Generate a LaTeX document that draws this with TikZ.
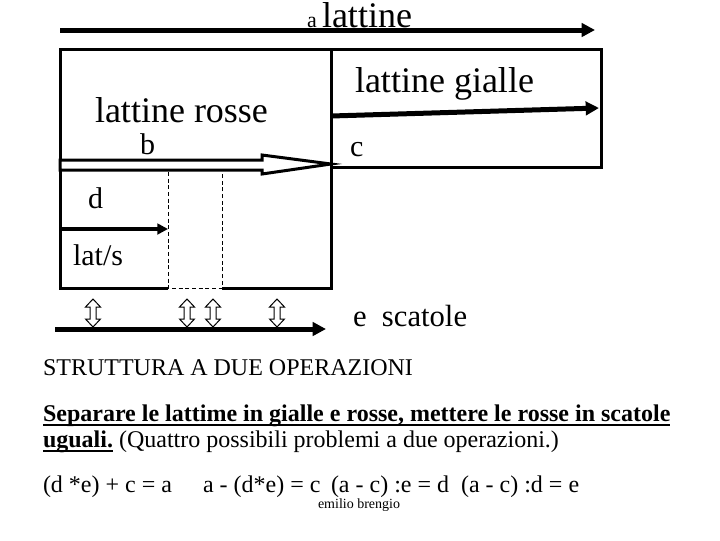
\documentclass[tikz,border=0pt]{standalone}
\usepackage{fontspec}
\IfFontExistsTF{LiberationSerif-Regular.ttf}
  {\setmainfont{LiberationSerif}[Extension=.ttf,UprightFont=*-Regular,BoldFont=*-Bold,ItalicFont=*-Italic,BoldItalicFont=*-BoldItalic]}
  {\setmainfont{Liberation Serif}}
\usetikzlibrary{arrows.meta}
\tikzset{
  lbl/.style={anchor=base west, inner sep=0pt, outer sep=0pt},
  big/.style={lbl, font=\rmfamily\fontsize{27}{32}\selectfont},
  mid/.style={lbl, font=\rmfamily\fontsize{22.5}{27}\selectfont},
  txt/.style={lbl, font=\rmfamily\fontsize{18}{22}\selectfont},
  boxline/.style={line width=2.25pt},
  fatarrow/.style={line width=3.75pt, -{Triangle[length=10pt,width=10pt]}},
  thinarrow/.style={line width=3pt, -{Triangle[length=8pt,width=8pt]}},
  dashline/.style={line width=0.75pt, dash pattern=on 3pt off 2pt},
  updown/.pic={\draw[line width=0.75pt, fill=white]
      (0,-14)--(7.5,-6)--(3,-6)--(3,6)--(7.5,6)--(0,14)--(-7.5,6)--(-3,6)--(-3,-6)--(-7.5,-6)--cycle;},
  uline/.style={line width=1.6pt}
}
\begin{document}
\begin{tikzpicture}[x=0.75pt,y=-0.75pt]
\fill[white] (0,0) rectangle (720,540);
\useasboundingbox (0,0) rectangle (720,540);

% top arrow "a lattine"
\coordinate (ta0) at (60,30);
\coordinate (ta1) at (595,30);
\draw[fatarrow] (ta0) -- (ta1);
\node[lbl, font=\rmfamily\fontsize{16.5}{20}\selectfont] (la) at (307,27) {a};
\node[big] (lat) at (322,27) {lattine};

% frame
\draw[boxline] (168,288) -| (60,49) -| (601,167) -- (331,167);
\draw[boxline] (331,49) -- (331,288) -- (222,288);
\draw[dashline] (168,172) -- (168,288) -- (222,288) -- (222,172);

% gialle arrow
\coordinate (g0) at (331,116);
\coordinate (g1) at (599,108);
\draw[fatarrow] (g0) -- (g1);

\node[big] (gialle) at (355,92) {lattine gialle};
\node[big] (rosse) at (95,122) {lattine rosse};
\node[mid] (b) at (140,154) {b};
\node[mid] (c) at (350,156) {c};

% hollow arrow b
\draw[line width=2.25pt, fill=white]
  (60,160) -- (262,160) -- (262,155) -- (331,164) -- (262,174) -- (262,170) -- (60,170) -- cycle;

% d arrow
\node[mid] (d) at (88,208) {d};
\coordinate (d0) at (60,229);
\coordinate (d1) at (168,229);
\draw[thinarrow] (d0) -- (d1);
\node[mid] (lats) at (73,265) {lat/s};

% bottom arrow and double arrows
\coordinate (e0) at (55,329);
\coordinate (e1) at (326,329);
\draw[fatarrow] (e0) -- (e1);
\pic at (93,313) {updown};
\pic at (187,313) {updown};
\pic at (213,313) {updown};
\pic at (277,313) {updown};
\node[lbl, font=\rmfamily\fontsize{23}{27}\selectfont] (esc) at (353,326) {e~ scatole};

% texts
\node[txt] (title) at (43,375) {STRUTTURA A DUE OPERAZIONI};
\node[txt, font=\rmfamily\fontsize{18}{22}\selectfont\bfseries] (sep) at (43,421)
  {Separare le lattime in gialle e rosse, mettere le rosse in scatole};
\draw[uline] ([yshift=-3pt]sep.base west) -- ([yshift=-3pt]sep.base east);
\node[txt, font=\rmfamily\fontsize{18}{22}\selectfont\bfseries] (ug) at (43,447) {uguali.};
\draw[uline] ([yshift=-3pt]ug.base west) -- ([yshift=-3pt]ug.base east);
\node[txt] (quat) at (ug.base east) {\ (Quattro possibili problemi a due operazioni.)};

\node[txt] (eq1) at (43,492) {(d *e) + c = a};
\node[txt] (eq2) at (203,492) {a - (d*e) = c};
\node[txt] (eq3) at (331,492) {(a - c) :e = d};
\node[txt] (eq4) at (461,492) {(a - c) :d = e};
\node[lbl, font=\rmfamily\fontsize{10.5}{12}\selectfont] (auth) at (318,508) {emilio brengio};
\end{tikzpicture}
\end{document}
